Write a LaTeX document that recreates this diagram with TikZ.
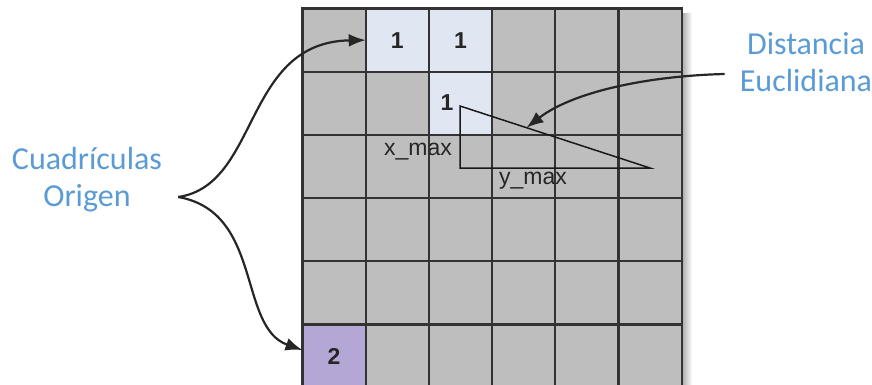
\documentclass[tikz,border=0pt]{standalone}
\usepackage{fontspec}
\setmainfont{Liberation Sans}
\newfontfamily\calfont{Carlito}
\usetikzlibrary{arrows.meta,calc}
\definecolor{cellgray}{HTML}{BEBEBE}
\definecolor{gridline}{HTML}{333333}
\definecolor{srcblue}{HTML}{E1E7F2}
\definecolor{srcpurple}{HTML}{B4A7D6}
\definecolor{lblblue}{HTML}{5B9BD5}
\definecolor{txtdark}{HTML}{262626}
\tikzset{
  cell/.style={draw=gridline,fill=cellgray,line width=2.2pt,minimum size=63.2pt,inner sep=0pt,outer sep=0pt},
  src1/.style={fill=srcblue},
  src2/.style={fill=srcpurple},
  cs12/.style={src1}, cs13/.style={src1}, cs23/.style={src1}, cs61/.style={src2},
  num/.style={font=\fontsize{23}{23}\selectfont\bfseries,text=txtdark,inner sep=0pt},
  axis/.style={font=\fontsize{23}{23}\selectfont,text=txtdark,inner sep=0pt},
  lbl/.style={font=\calfont\fontsize{32}{37}\selectfont,text=lblblue,align=center,inner sep=0pt},
  ar/.style={-{Latex[length=17pt,width=13pt]},draw=black!85,line width=2.2pt},
  tri/.style={draw=black!90,line width=1.5pt},
}
\begin{document}
\begin{tikzpicture}[x=1pt,y=-1pt]
  \useasboundingbox (0,0) rectangle (872,385);
  \shade[left color=black!30,right color=white] (683,14) rectangle (692,385);
  \foreach \r in {1,...,6}
    \foreach \c in {1,...,6}
      \node[cell,cs\r\c/.try] (c\r\c) at ({302.5+(\c-0.5)*63.2},{8.5+(\r-0.5)*63.2}) {};

  \node[num] (n12) at (c12) {1};
  \node[num] (n13) at (c13) {1};
  \node[num] (n23) at (447,103) {1};
  \node[num] (n61) at (c61) {2};

  \coordinate (tA) at (460,106);
  \coordinate (tB) at (460,168);
  \coordinate (tC) at (650,168);
  \draw[tri] (tA) -- (tB) -- (tC) -- cycle;
  \node[axis] (xmax) at (418,152) {x\_max};
  \node[axis] (ymax) at (533,181) {y\_max};

  \node[lbl] (orig) at (87,180) {Cuadrículas\\Origen};
  \node[lbl] (dist) at (806,62) {Distancia\\Euclidiana};
  \coordinate (fork) at ([xshift=16pt,yshift=-17pt]orig.east);

  \draw[ar] (fork) .. controls +(82,-12) and +(-123,2) .. (c12.west);
  \draw[ar] (fork) .. controls +(85,15) and +(-65,-23) .. ([yshift=6pt]c61.west);
  \draw[ar] ([xshift=-15pt,yshift=-12pt]dist.west) .. controls +(-80,2) and +(45,-35) .. ($(tA)!0.35!(tC)$);
\end{tikzpicture}
\end{document}
